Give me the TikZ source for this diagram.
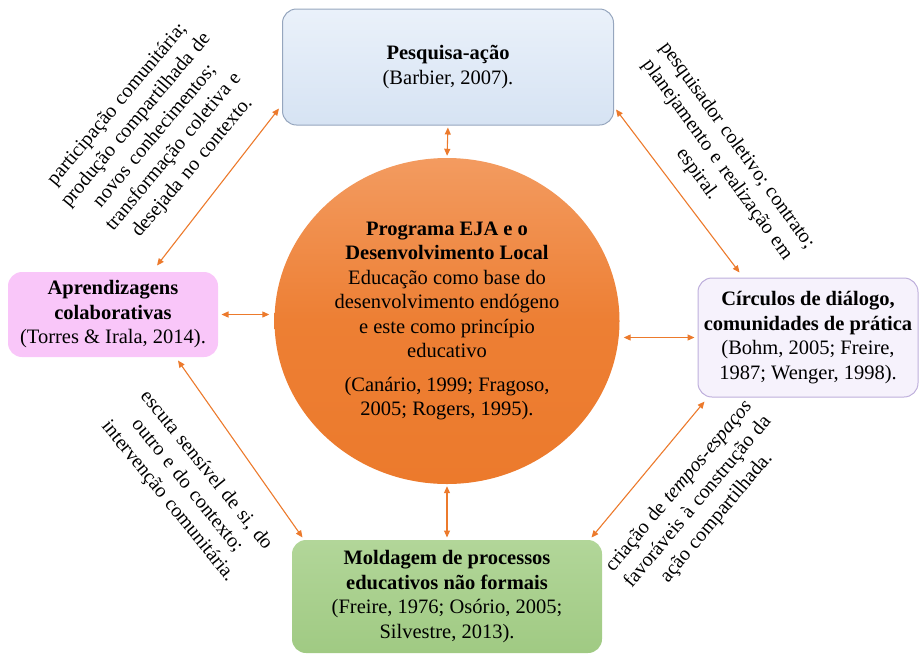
\documentclass[tikz,border=0pt]{standalone}
\usepackage{fontspec}
\setmainfont{Liberation Serif}
\usetikzlibrary{arrows.meta,positioning,shapes.geometric}
\definecolor{laranja}{RGB}{236,122,44}
\definecolor{laranjaclaro}{RGB}{243,155,96}
\definecolor{azulclaro}{RGB}{234,241,250}
\definecolor{azulmedio}{RGB}{214,227,243}
\definecolor{azulborda}{RGB}{150,166,190}
\definecolor{rosa}{RGB}{249,198,249}
\definecolor{lilas}{RGB}{246,242,252}
\definecolor{lilasborda}{RGB}{190,175,220}
\definecolor{verdeclaro}{RGB}{178,214,153}
\definecolor{verde}{RGB}{160,202,131}
\newcommand\notafonte{\fontsize{20}{24.5}\selectfont\spaceskip=0.33em plus 0.1em\relax}

\begin{document}
\begin{tikzpicture}[x=1pt,y=-1pt,
  every node/.style={font=\fontsize{20.5}{24.5}\selectfont,align=center,inner sep=2pt},
  caixa/.style={rectangle,rounded corners=14pt,line width=1pt},
  nota/.style={font=\notafonte},
  seta/.style={draw=laranja,line width=1.1pt,{Triangle[length=7pt,width=6pt]}-{Triangle[length=7pt,width=6pt]}}]
\useasboundingbox (0,0) rectangle (920,657);
% caixas
\node[caixa,draw=azulborda,top color=azulclaro,bottom color=azulmedio,minimum width=331,minimum height=116] (pesq) at (448,67) {\textbf{Pesquisa-ação}\\ (Barbier, 2007).};
\node[caixa,fill=rosa,minimum width=210,minimum height=85] (aprend) at (113,314.5) {\textbf{Aprendizagens}\\ \textbf{colaborativas}\\ (Torres \& Irala, 2014).};
\node[caixa,draw=lilasborda,fill=lilas,minimum width=220,minimum height=119] (circ) at (808,337.5) {\textbf{Círculos de diálogo,}\\ \textbf{comunidades de prática}\\ (Bohm, 2005; Freire,\\ 1987; Wenger, 1998).};
\node[caixa,top color=verdeclaro,bottom color=verde,minimum width=310,minimum height=113] (mold) at (447,596.5) {\textbf{Moldagem de processos}\\ \textbf{educativos não formais}\\ (Freire, 1976; Osório, 2005;\\ Silvestre, 2013).};
% centro
\node[ellipse,inner sep=0,minimum width=345,minimum height=326,top color=laranjaclaro,bottom color=laranja,middle color=laranja!85!laranjaclaro] (eja) at (447,321) {\textbf{Programa EJA e o}\\ \textbf{Desenvolvimento Local}\\ Educação como base do\\ desenvolvimento endógeno\\ e este como princípio\\ educativo\\[9pt] (Canário, 1999; Fragoso,\\ 2005; Rogers, 1995).};
% notas
\node[nota,rotate=50] (n1) at (155,136) {participação comunitária;\\ produção compartilhada de\\ novos conhecimentos;\\ transformação coletiva e\\ desejada no contexto.};
\node[nota,rotate=-54] (n2) at (717,160) {pesquisador coletivo; contrato;\\ planejamento e realização em\\ espiral.};
\node[nota,rotate=-51] (n3) at (187,486) {escuta sensível de si, do\\ outro e do contexto;\\ intervenção comunitária.};
\node[nota,rotate=50] (n4) at (698,502) {criação de \textit{tempos-espaços}\\ favoráveis à construção da\\ ação compartilhada.};
% setas
\draw[seta,shorten <=2pt,shorten >=2pt] (pesq.south) -- (eja.north);
\draw[seta,shorten <=3pt,shorten >=5pt] (aprend.east) -- (eja.west |- aprend.east);
\draw[seta,shorten <=4pt,shorten >=3pt] (eja.east |- circ.west) -- (circ.west);
\draw[seta,shorten <=2pt,shorten >=2pt] (eja.south) -- (mold.north);
\draw[seta] ([xshift=44pt,yshift=6pt]aprend.north) -- ([xshift=-3pt,yshift=17pt]pesq.south west);
\draw[seta] ([xshift=2pt,yshift=16pt]pesq.south east) -- ([xshift=42pt,yshift=5pt]circ.north west);
\draw[seta] ([xshift=65pt,yshift=-3pt]aprend.south) -- ([xshift=11pt,yshift=2pt]mold.north west);
\draw[seta] ([xshift=-11pt,yshift=2pt]mold.north east) -- ([xshift=7pt,yshift=-4pt]circ.south west);
\end{tikzpicture}
\end{document}
